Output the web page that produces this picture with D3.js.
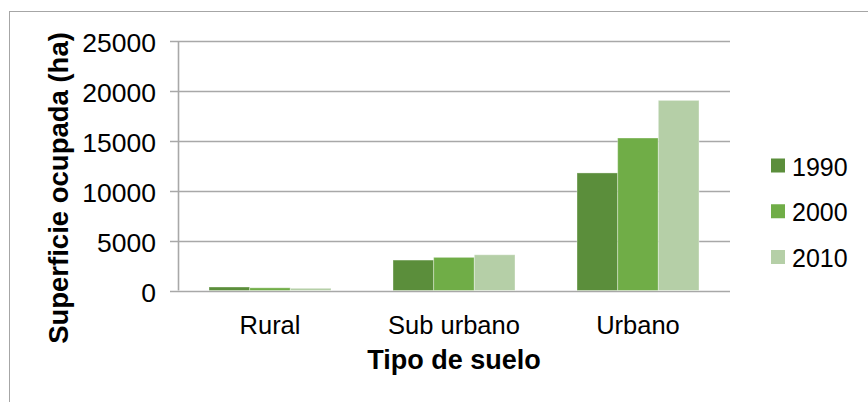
<!DOCTYPE html>
<html>
<head>
<meta charset="utf-8">
<script src="https://cdn.jsdelivr.net/npm/d3@7"></script>
<style>
  body { margin: 0; background: #fff; }
  svg { display: block; font-family: "Liberation Sans", Arial, sans-serif; }
</style>
</head>
<body>
<div id="chart"></div>
<script>
// Data
const categories = ['Rural', 'Sub urbano', 'Urbano'];
const years = ['1990', '2000', '2010'];
const values1990 = [350, 3050, 11780];
const values2000 = [270, 3320, 15280];
const values2010 = [220, 3580, 19050];
const yTicks = [0, 5000, 10000, 15000, 20000, 25000];
const colors = ['#5b8e3b', '#70ad47', '#b5cfa7'];

const seriesValues = [values1990, values2000, values2010];

const width = 868, height = 402;
const plot = {left: 178, right: 730, top: 41, bottom: 290.5};

const svg = d3.select('#chart').append('svg')
    .attr('width', width)
    .attr('height', height);

// outer chart frame (only left/top visible)
svg.append('rect')
    .attr('x', 9.5).attr('y', 11.5)
    .attr('width', 880).attr('height', 420)
    .attr('fill', 'none')
    .attr('stroke', '#a6a6a6')
    .attr('stroke-width', 1);

const x0 = d3.scaleBand()
    .domain(categories)
    .range([plot.left, plot.right])
    .paddingInner(0.337)
    .paddingOuter(0.1685);

const x1 = d3.scaleBand()
    .domain(years)
    .range([0, x0.bandwidth()]);

const y = d3.scaleLinear()
    .domain([0, 25000])
    .range([plot.bottom, plot.top]);

// gridlines
svg.append('g')
    .selectAll('line')
    .data(yTicks)
    .enter().append('line')
    .attr('x1', plot.left - 8)
    .attr('x2', plot.right)
    .attr('y1', d => Math.round(y(d)) + 0.5)
    .attr('y2', d => Math.round(y(d)) + 0.5)
    .attr('stroke', '#a8a8a8')
    .attr('stroke-width', 1.6);

// y axis line
svg.append('line')
    .attr('x1', plot.left + 0.5).attr('x2', plot.left + 0.5)
    .attr('y1', y(25000)).attr('y2', y(0))
    .attr('stroke', '#a8a8a8')
    .attr('stroke-width', 1.6);

// tick labels
svg.append('g')
    .selectAll('text')
    .data(yTicks)
    .enter().append('text')
    .attr('x', 156)
    .attr('y', d => y(d) + 2)
    .attr('text-anchor', 'end')
    .attr('dominant-baseline', 'central')
    .style('font-size', '26.5px')
    .attr('fill', '#000')
    .text(d => d);

// bars
const rows = categories.map((c, i) => ({
    cat: c,
    vals: years.map((yr, j) => ({year: yr, value: seriesValues[j][i], color: colors[j]}))
}));

svg.append('g')
    .selectAll('g')
    .data(rows)
    .enter().append('g')
    .attr('transform', d => `translate(${x0(d.cat)},0)`)
    .selectAll('rect')
    .data(d => d.vals)
    .enter().append('rect')
    .attr('x', d => x1(d.year))
    .attr('y', d => y(d.value))
    .attr('width', x1.bandwidth())
    .attr('height', d => y(0) - y(d.value))
    .attr('fill', d => d.color)
    .attr('stroke', 'rgba(255,255,255,0.35)')
    .attr('stroke-width', 1);

// category labels
svg.append('g')
    .selectAll('text')
    .data(categories)
    .enter().append('text')
    .attr('x', d => x0(d) + x0.bandwidth() / 2)
    .attr('y', 334)
    .attr('text-anchor', 'middle')
    .style('font-size', '25.5px')
    .attr('fill', '#000')
    .text(d => d);

// axis titles
svg.append('text')
    .attr('x', (plot.left + plot.right) / 2)
    .attr('y', 369)
    .attr('text-anchor', 'middle')
    .style('font-size', '27px')
    .style('font-weight', 'bold')
    .text('Tipo de suelo');

svg.append('text')
    .attr('transform', 'translate(68,188) rotate(-90)')
    .attr('text-anchor', 'middle')
    .style('font-size', '27.5px')
    .style('font-weight', 'bold')
    .text('Superficie ocupada (ha)');

// legend
const legend = svg.append('g')
    .selectAll('g')
    .data(years)
    .enter().append('g')
    .attr('transform', (d, i) => `translate(771,${165.5 + i * 45.75})`);

legend.append('rect')
    .attr('x', 0).attr('y', -7)
    .attr('width', 14).attr('height', 14)
    .attr('fill', (d, i) => colors[i]);

legend.append('text')
    .attr('x', 21)
    .attr('y', 1)
    .attr('dominant-baseline', 'central')
    .style('font-size', '25px')
    .text(d => d);
</script>
</body>
</html>
